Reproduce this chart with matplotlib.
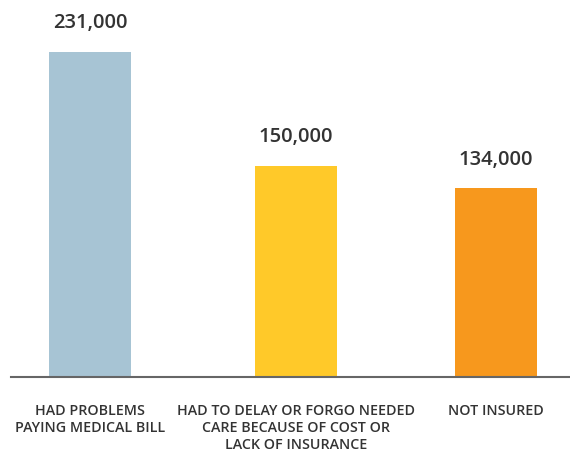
import matplotlib
matplotlib.use("Agg")
import matplotlib.pyplot as plt

categories = ["HAD PROBLEMS\nPAYING MEDICAL BILL",
              "HAD TO DELAY OR FORGO NEEDED\nCARE BECAUSE OF COST OR\nLACK OF INSURANCE",
              "NOT INSURED"]
values = [231000, 150000, 134000]
value_labels = ["231,000", "150,000", "134,000"]
colors = ["#A7C4D4", "#FFC929", "#F7981D"]
positions = [0, 1.015, 2]

plt.rcParams['font.family'] = ['Open Sans', 'DejaVu Sans']

fig = plt.figure(figsize=(5.70, 4.51), dpi=100)
ax = fig.add_axes([11/570, 74/451, 559/570, 377/451])
ax.bar(positions, values, width=0.404, color=colors)
ax.set_xlim(-0.389, 2.365)
ax.set_ylim(0, 268000)
for p, v, t in zip(positions, values, value_labels):
    ax.annotate(t, xy=(p, v), xytext=(0, 29*0.72), textcoords='offset points',
                ha='center', va='center', fontsize=14.5, fontweight='semibold', color='#333333')
for s in ['top', 'right', 'left']:
    ax.spines[s].set_visible(False)
ax.spines['bottom'].set_color('#666666')
ax.spines['bottom'].set_linewidth(1.5)
ax.set_yticks([])
ax.set_xticks(positions)
ax.set_xticklabels(categories, fontsize=10.3, fontweight='semibold', color='#333333', linespacing=1.27, va='top')
ax.tick_params(axis='x', length=0, pad=19.5)
fig.savefig("out.png", dpi=100)
